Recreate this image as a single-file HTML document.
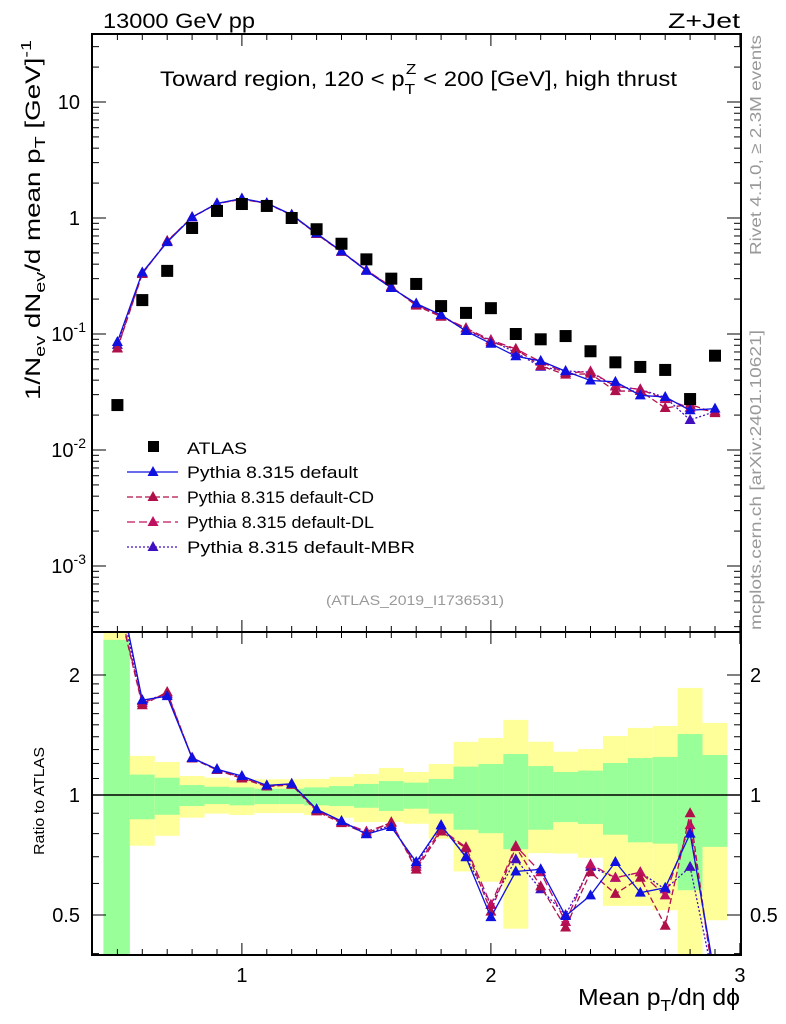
<!DOCTYPE html>
<html><head><meta charset="utf-8"><style>
body{margin:0;background:#fff;}
svg{display:block;font-family:"Liberation Sans",Arial,sans-serif;}
</style></head><body>
<svg id="chart" width="786" height="1024" xmlns="http://www.w3.org/2000/svg">
<g id="bands"></g>
<g id="ratio"></g>
<g id="main"></g>
<g id="axes"></g>
<text x="103" y="28" font-size="21" textLength="152" lengthAdjust="spacingAndGlyphs">13000 GeV pp</text>
<text x="668" y="28" font-size="21" textLength="72" lengthAdjust="spacingAndGlyphs">Z+Jet</text>
<text x="160" y="86" font-size="21" textLength="517" lengthAdjust="spacingAndGlyphs">Toward region, 120 &lt; p<tspan font-size="15" dy="8">T</tspan><tspan font-size="15" dx="-8" dy="-20">Z</tspan><tspan dy="12"> &lt; 200 [GeV], high thrust</tspan></text>
<text x="326" y="605" font-size="14" fill="#999" textLength="178" lengthAdjust="spacingAndGlyphs">(ATLAS_2019_I1736531)</text>
<text transform="translate(761,255) rotate(-90)" font-size="16" fill="#999" textLength="220" lengthAdjust="spacingAndGlyphs">Rivet 4.1.0, ≥ 2.3M events</text>
<text transform="translate(761,630) rotate(-90)" font-size="16" fill="#999" textLength="300" lengthAdjust="spacingAndGlyphs">mcplots.cern.ch [arXiv:2401.10621]</text>
<text transform="translate(40,400) rotate(-90)" font-size="21" textLength="360" lengthAdjust="spacingAndGlyphs">1/N<tspan font-size="15" dy="5">ev</tspan><tspan dy="-5"> dN</tspan><tspan font-size="15" dy="5">ev</tspan><tspan dy="-5">/d mean p</tspan><tspan font-size="15" dy="5">T</tspan><tspan dy="-5"> [GeV]</tspan><tspan font-size="15" dy="-9">-1</tspan></text>
<text transform="translate(44,855) rotate(-90)" font-size="15" textLength="108" lengthAdjust="spacingAndGlyphs">Ratio to ATLAS</text>
<text x="578" y="1005" font-size="23" textLength="162" lengthAdjust="spacingAndGlyphs">Mean p<tspan font-size="16" dy="6">T</tspan><tspan dy="-6">/dη dϕ</tspan></text>
<g id="legend"></g>
</svg>
<script>
const xs=[0.5,0.6,0.7,0.8,0.9,1.0,1.1,1.2,1.3,1.4,1.5,1.6,1.7,1.8,1.9,2.0,2.1,2.2,2.3,2.4,2.5,2.6,2.7,2.8,2.9];
const binLo=[0.444,0.55,0.65,0.75,0.85,0.95,1.05,1.15,1.25,1.35,1.45,1.55,1.65,1.75,1.85,1.95,2.05,2.15,2.25,2.35,2.45,2.55,2.65,2.75,2.85];
const binHi=[0.55,0.65,0.75,0.85,0.95,1.05,1.15,1.25,1.35,1.45,1.55,1.65,1.75,1.85,1.95,2.05,2.15,2.25,2.35,2.45,2.55,2.65,2.75,2.85,2.95];
const atlas=[0.0244,0.196,0.35,0.82,1.15,1.32,1.27,1.0,0.80,0.60,0.44,0.30,0.27,0.174,0.152,0.167,0.10,0.09,0.096,0.071,0.057,0.052,0.049,0.0275,0.065];
const yelHi=[2.7,1.253,1.21,1.116,1.105,1.088,1.095,1.095,1.097,1.11,1.129,1.169,1.142,1.196,1.359,1.39,1.543,1.36,1.284,1.304,1.406,1.473,1.49,1.856,1.516];
const grnHi=[2.45,1.125,1.105,1.059,1.049,1.045,1.037,1.037,1.045,1.053,1.066,1.084,1.074,1.097,1.178,1.196,1.267,1.182,1.142,1.151,1.203,1.238,1.246,1.422,1.26];
const grnLo=[0.3,0.869,0.892,0.938,0.949,0.942,0.949,0.949,0.942,0.938,0.929,0.912,0.924,0.898,0.818,0.802,0.731,0.818,0.855,0.846,0.795,0.761,0.755,0.577,0.741];
const yelLo=[0.3,0.746,0.79,0.877,0.898,0.891,0.901,0.901,0.891,0.877,0.855,0.855,0.847,0.777,0.643,0.606,0.462,0.715,0.713,0.696,0.527,0.527,0.514,0.3,0.485];
const rDefault=[3.5,1.73,1.77,1.238,1.16,1.116,1.057,1.067,0.921,0.86,0.797,0.831,0.679,0.839,0.698,0.494,0.643,0.651,0.497,0.56,0.679,0.569,0.585,0.8,0.35];
const rCD=[3.07,1.68,1.813,1.235,1.155,1.10,1.05,1.06,0.91,0.85,0.80,0.855,0.65,0.81,0.735,0.51,0.74,0.59,0.465,0.64,0.565,0.62,0.47,0.9,0.32];
const rDL=[3.1,1.70,1.80,1.24,1.16,1.105,1.055,1.065,0.915,0.855,0.81,0.85,0.66,0.82,0.74,0.53,0.745,0.64,0.48,0.67,0.62,0.64,0.56,0.84,0.33];
const rMBR=[3.3,1.72,1.79,1.24,1.16,1.11,1.055,1.065,0.92,0.86,0.80,0.84,0.67,0.84,0.70,0.53,0.69,0.58,0.50,0.66,0.62,0.64,0.58,0.66,0.33];
const yTicksMain=[10,1,0.1,0.01,0.001];
const yTickLabels=["10","1","10<sup>-1</sup>","10<sup>-2</sup>","10<sup>-3</sup>"];
const xTicks=[1,2,3];
const rTicks=[2,1,0.5];

const NS="http://www.w3.org/2000/svg";
const L=92,R=741,T=34,M=632,B=955;
const X=v=>L+(v-0.398)*249;
const Y=v=>218-Math.log10(v)*116;
const RY=v=>795-Math.log10(v)*398.6;
function mk(tag,attrs,parent){const e=document.createElementNS(NS,tag);for(const k in attrs)e.setAttribute(k,attrs[k]);parent.appendChild(e);return e;}
const bands=document.getElementById('bands'),ratio=document.getElementById('ratio'),main=document.getElementById('main'),axes=document.getElementById('axes'),legend=document.getElementById('legend');
const clipR=mk('clipPath',{id:'cr'},document.getElementById('chart'));mk('rect',{x:L,y:M,width:R-L,height:B-M},clipR);
const clipM=mk('clipPath',{id:'cm'},document.getElementById('chart'));mk('rect',{x:L,y:T,width:R-L,height:M-T},clipM);
bands.setAttribute('clip-path','url(#cr)');ratio.setAttribute('clip-path','url(#cr)');
for(let i=0;i<xs.length;i++){
  let e=mk('rect',{x:X(binLo[i]),y:RY(yelHi[i]),width:X(binHi[i])-X(binLo[i]),height:RY(yelLo[i])-RY(yelHi[i]),fill:'#ffff99'},bands);
  
  
  e=mk('rect',{x:X(binLo[i]),y:RY(grnHi[i]),width:X(binHi[i])-X(binLo[i]),height:RY(grnLo[i])-RY(grnHi[i]),fill:'#99ff99'},bands);
  
  
}
mk('line',{x1:L,x2:R,y1:RY(1),y2:RY(1),stroke:'#000','stroke-width':1.5},ratio);
const series=[
 {name:'default',r:rDefault,c:'#1010e0',dash:'',label:'Pythia 8.315 default',w:171},
 {name:'default-cd',r:rCD,c:'#b0104a',dash:'6,3',label:'Pythia 8.315 default-CD',w:187},
 {name:'default-dl',r:rDL,c:'#c01060',dash:'8,4',label:'Pythia 8.315 default-DL',w:187},
 {name:'default-mbr',r:rMBR,c:'#4010c0',dash:'2,2',label:'Pythia 8.315 default-MBR',w:228}];
function tri(x,y,c,p,nm){const e=mk('path',{d:`M${x},${y-6}L${x+5.5},${y+4}L${x-5.5},${y+4}Z`,fill:c},p);}
main.setAttribute('clip-path','url(#cm)');
series.slice().reverse().forEach(s=>{
  const pm=xs.map((x,i)=>X(x)+','+Y(atlas[i]*s.r[i])).join(' ');
  let e=mk('polyline',{points:pm,fill:'none',stroke:s.c,'stroke-width':1.3,'stroke-dasharray':s.dash},main);
  
  
  xs.forEach((x,i)=>tri(X(x),Y(atlas[i]*s.r[i]),s.c,main,s.name+'-marker'));
  const pr=xs.map((x,i)=>X(x)+','+RY(s.r[i])).join(' ');
  e=mk('polyline',{points:pr,fill:'none',stroke:s.c,'stroke-width':1.3,'stroke-dasharray':s.dash},ratio);
  
  
  xs.forEach((x,i)=>tri(X(x),RY(s.r[i]),s.c,ratio,s.name+'-ratio-marker'));
});
xs.forEach((x,i)=>{const e=mk('rect',{x:X(x)-6,y:Y(atlas[i])-6,width:12,height:12,fill:'#000'},main);
  
  });
mk('rect',{x:L,y:T,width:R-L,height:M-T,fill:'none',stroke:'#000','stroke-width':2},axes);
mk('rect',{x:L,y:M,width:R-L,height:B-M,fill:'none',stroke:'#000','stroke-width':2},axes);
for(let v=0.4;v<=3.001;v+=0.1){const x=X(v);const maj=Math.abs(v-Math.round(v))<1e-6;const h=maj?12:6;
 [T,M].forEach(y0=>mk('line',{x1:x,x2:x,y1:y0,y2:y0+h,stroke:'#000'},axes));
 [M,B].forEach(y0=>mk('line',{x1:x,x2:x,y1:y0,y2:y0-h,stroke:'#000'},axes));}
xTicks.forEach(v=>{const e=mk('text',{x:X(v),y:982,'font-size':20,'text-anchor':'middle'},axes);e.textContent=v;
 });
for(let d=-4;d<=1;d++){for(let k=1;k<10;k++){const v=k*Math.pow(10,d);const y=Y(v);if(y<T||y>M)continue;const h=k==1?14:7;
 mk('line',{x1:L,x2:L+h,y1:y,y2:y,stroke:'#000'},axes);mk('line',{x1:R,x2:R-h,y1:y,y2:y,stroke:'#000'},axes);}}
yTicksMain.forEach((v,i)=>{const e=mk('text',{x:80,y:Y(v)+7,'font-size':20,'text-anchor':'end'},axes);
 const lab=yTickLabels[i];const m=lab.match(/^(\d+)<sup>(.*)<\/sup>$/);
 if(m){e.textContent=m[1];const t=mk('tspan',{'font-size':14,dy:-9},e);t.textContent=m[2];e.setAttribute('x',86);}else e.textContent=lab;
 });
[0.4,0.5,0.6,0.7,0.8,0.9,1,2].forEach(v=>{const y=RY(v);const h=(v==0.5||v==1||v==2)?14:7;
 mk('line',{x1:L,x2:L+h,y1:y,y2:y,stroke:'#000'},axes);mk('line',{x1:R,x2:R-h,y1:y,y2:y,stroke:'#000'},axes);});
[1.1,1.2,1.3,1.4,1.5,1.6,1.7,1.8,1.9].forEach(v=>{const y=RY(v);mk('line',{x1:L,x2:L+7,y1:y,y2:y,stroke:'#000'},axes);mk('line',{x1:R,x2:R-7,y1:y,y2:y,stroke:'#000'},axes);});
rTicks.forEach(v=>{[[80,'end'],[750,'start']].forEach(([x,a])=>{const e=mk('text',{x:x,y:RY(v)+7,'font-size':20,'text-anchor':a},axes);e.textContent=v;
 });});
let e=mk('rect',{x:148,y:441,width:11,height:11,fill:'#000'},legend);

e=mk('text',{x:187,y:454,'font-size':17,textLength:60,lengthAdjust:'spacingAndGlyphs'},legend);e.textContent='ATLAS';

series.forEach((s,i)=>{const y=472+i*25;
 mk('line',{x1:127,x2:178,y1:y,y2:y,stroke:s.c,'stroke-width':1.3,'stroke-dasharray':s.dash},legend);
 tri(153,y,s.c,legend,'legend-marker');
 const t=mk('text',{x:187,y:y+6,'font-size':17,textLength:s.w,lengthAdjust:'spacingAndGlyphs'},legend);t.textContent=s.label;
 });
</script>
</body></html>
